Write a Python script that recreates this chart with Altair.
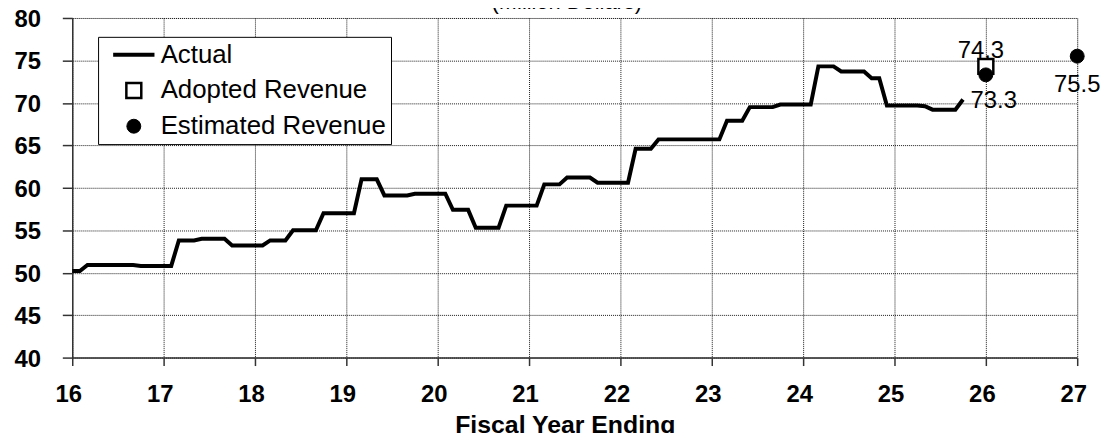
import altair as alt
import pandas as pd

# ---- data ----
start_year = 16
actual_monthly = (
    [50.2] * 2 + [50.9] * 7 + [50.8] * 5 + [53.8] * 3 + [54.0] * 4 + [53.2] * 5 +
    [53.8] * 3 + [55.0] * 4 + [57.0] * 5 + [61.0] * 3 + [59.1] * 4 + [59.3] * 5 +
    [57.4] * 3 + [55.3] * 4 + [57.9] * 5 + [60.4] * 3 + [61.2] * 4 + [60.6] * 5 +
    [64.6] * 3 + [65.7] * 9 + [67.9] * 3 + [69.5] * 4 + [69.8] * 5 + [74.3] * 3 +
    [73.7] * 4 + [72.9] * 2 + [69.7] * 5 + [69.6] * 1 + [69.2] * 4 + [70.4] * 1
)
adopted_year = [26]
adopted_value = [74.3]
estimated_year = [26, 27]
estimated_value = [73.3, 75.5]
series_names = ["Actual", "Adopted Revenue", "Estimated Revenue"]
x_ticks = list(range(16, 28))
y_ticks = list(range(40, 81, 5))

actual_df = pd.DataFrame({
    "year": [start_year + i / 12 for i in range(len(actual_monthly))],
    "value": actual_monthly,
    "series": "Actual",
})
adopted_df = pd.DataFrame({"year": adopted_year, "value": adopted_value, "series": "Adopted Revenue"})
est_df = pd.DataFrame({"year": estimated_year, "value": estimated_value, "series": "Estimated Revenue"})

FONT = "Liberation Sans"

x_enc = alt.X(
    "year:Q",
    scale=alt.Scale(domain=[16, 27], nice=False, zero=False),
    axis=alt.Axis(
        values=x_ticks, format="d", title="Fiscal Year Ending",
        titleFont=FONT, titleFontSize=25, titleFontWeight="bold", titleColor="black",
        titlePadding=6, titleX=496,
        labelFont=FONT, labelFontSize=24, labelFontWeight="bold", labelColor="black",
        labelPadding=17, labelOffset=-4, labelFlush=False, labelOverlap=False,
        tickSize=8, tickColor="#333333", tickWidth=1.5,
        domainColor="#333333", domainWidth=1.5,
        grid=True, gridColor="black", gridDash=[1, 1], gridWidth=1, gridOpacity=0.9,
    ),
)
y_enc = alt.Y(
    "value:Q",
    scale=alt.Scale(domain=[40, 80], nice=False, zero=False),
    axis=alt.Axis(
        values=y_ticks, title=None,
        labelFont=FONT, labelFontSize=24, labelFontWeight="bold", labelColor="black",
        labelPadding=22, labelOffset=1.5, labelFlush=False, labelOverlap=False,
        tickSize=10, tickColor="#333333", tickWidth=1.5,
        domainColor="#333333", domainWidth=1.5,
        grid=True, gridColor="black", gridDash=[1, 1], gridWidth=1, gridOpacity=0.9,
    ),
)

legend = alt.Legend(
    title=None, orient="none", legendX=26, legendY=19,
    labelFont=FONT, labelFontSize=26, labelColor="black", labelLimit=0,
    padding=5, strokeColor="black", fillColor="white",
    rowPadding=10, labelOffset=14, symbolOffset=18,
    symbolStrokeColor="black",
)
shape_enc = alt.Shape("series:N", scale=alt.Scale(domain=series_names, range=["M-2.6,0H2.6", "square", "circle"]), legend=legend)
fill_enc = alt.Fill("series:N", scale=alt.Scale(domain=series_names, range=["transparent", "white", "black"]), legend=legend)
stroke_enc = alt.Stroke("series:N", scale=alt.Scale(domain=series_names, range=["black", "black", "black"]), legend=legend)
size_enc = alt.Size("series:N", scale=alt.Scale(domain=series_names, range=[256, 196, 256]), legend=legend)
sw_enc = alt.StrokeWidth("series:N", scale=alt.Scale(domain=series_names, range=[4, 1, 1]), legend=legend)

line = alt.Chart(actual_df).mark_line(color="black", strokeWidth=4).encode(x=x_enc, y=y_enc)

adopted = alt.Chart(adopted_df).mark_point(filled=True, opacity=1).encode(
    x="year:Q", y="value:Q", shape=shape_enc, fill=fill_enc, stroke=stroke_enc, size=size_enc, strokeWidth=sw_enc)
estimated = alt.Chart(est_df).mark_point(filled=True, opacity=1).encode(
    x="year:Q", y="value:Q", shape=shape_enc, fill=fill_enc, stroke=stroke_enc, size=size_enc, strokeWidth=sw_enc)

lab_style = dict(font=FONT, fontSize=24, color="black", baseline="alphabetic", align="center")
adopted_lab = alt.Chart(adopted_df).mark_text(dx=-5, dy=-8, **lab_style).encode(
    x="year:Q", y="value:Q", text=alt.Text("value:Q", format=".1f"))
est_lab_a = alt.Chart(est_df).transform_filter("datum.year == 26").mark_text(dx=8, dy=33, **lab_style).encode(
    x="year:Q", y="value:Q", text=alt.Text("value:Q", format=".1f"))
est_lab_b = alt.Chart(est_df).transform_filter("datum.year == 27").mark_text(dx=0, dy=36, **lab_style).encode(
    x="year:Q", y="value:Q", text=alt.Text("value:Q", format=".1f"))

chart = alt.layer(line, adopted, estimated, adopted_lab, est_lab_a, est_lab_b).properties(
    width=1012, height=342,
    title=alt.TitleParams("(Million Dollars)", font=FONT, fontSize=22, fontWeight="normal",
                          color="black", anchor="middle", offset=2, dx=-8, dy=8),
    autosize=alt.AutoSizeParams(type="none"),
    padding={"left": 64.7, "top": 8.5, "right": 30, "bottom": 90},
).configure_view(stroke=None).configure(background="white")

chart.save("out.html", embed_options={"renderer": "svg", "actions": False})
